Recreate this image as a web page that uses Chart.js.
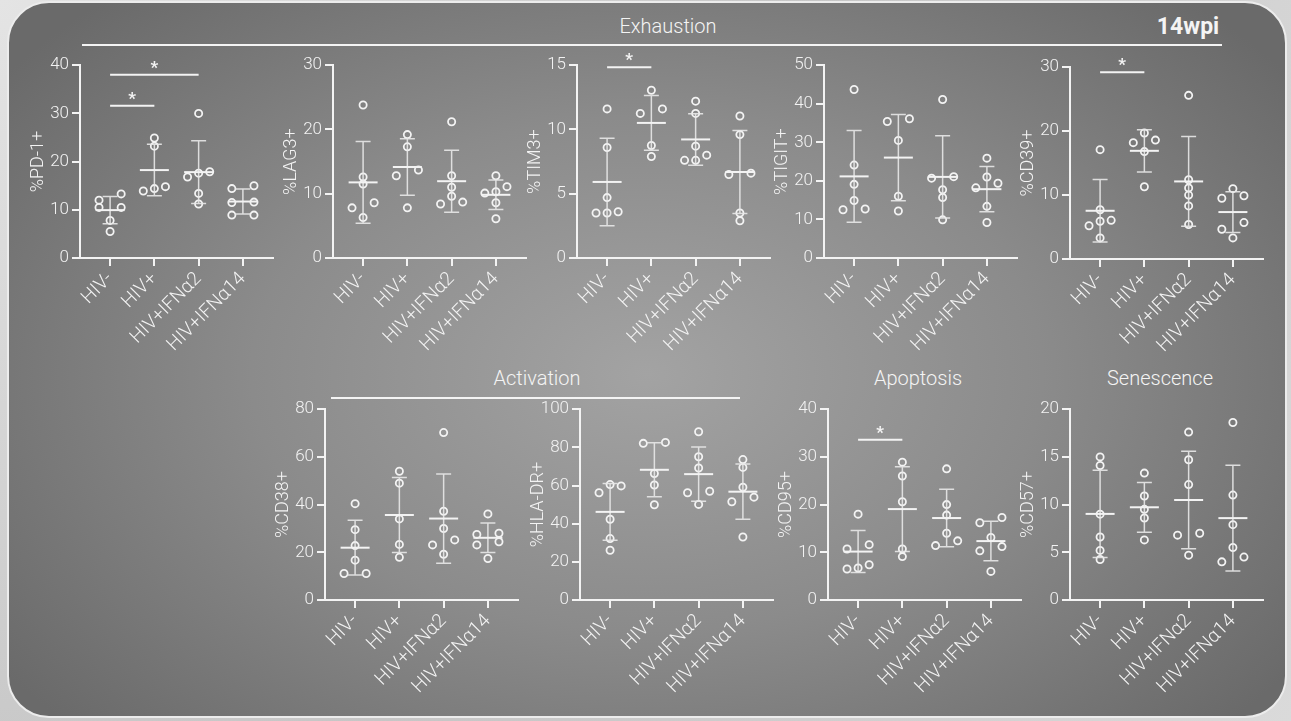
<!DOCTYPE html>
<html>
<head>
<meta charset="utf-8">
<script src="https://cdn.jsdelivr.net/npm/chart.js@4.4.1/dist/chart.umd.min.js"></script>
<style>
  html, body { margin: 0; padding: 0; }
  body {
    width: 1291px; height: 721px; overflow: hidden; position: relative;
    background: radial-gradient(circle at 0 0, #e4e4e4, #c6c6c6 55%, #dadada);
    font-family: Roboto, 'Liberation Sans', sans-serif;
  }
  #frame {
    position: absolute; left: 7px; top: 1px; width: 1280px; height: 717px;
    box-sizing: border-box; border-radius: 42px; border: 2px solid #ececec;
    background: radial-gradient(ellipse 62% 72% at 50% 52%, #a3a3a3 0%, #8b8b8b 50%, #6a6a6a 100%);
  }
  canvas { position: absolute; }
  .hd { position: absolute; color: #f4f4f4; font-size: 20px; font-weight: 300; transform: translate(-50%, -50%); white-space: nowrap; }
  .rule { position: absolute; height: 2px; background: #f4f4f4; }
</style>
</head>
<body>
<div id="frame"></div>
<div class="hd" style="left:668px; top:26px;">Exhaustion</div>
<div class="hd" style="left:1188px; top:26px; font-weight:700; font-size:23px;">14wpi</div>
<div class="rule" style="left:82px; top:44px; width:1140px;"></div>
<div class="hd" style="left:537px; top:378px;">Activation</div>
<div class="rule" style="left:331px; top:397px; width:409px;"></div>
<div class="hd" style="left:918px; top:378px;">Apoptosis</div>
<div class="hd" style="left:1160px; top:378px;">Senescence</div>

<script>
// ── 14wpi 表型面板：每組個別值 + 平均 ± SD ──────────────
const GROUPS = ['HIV-', 'HIV+', 'HIV+IFNα2', 'HIV+IFNα14'];

// 各標記的個別值：[HIV-, HIV+, HIV+IFNα2, HIV+IFNα14]
const PD1   = [[13.3, 12.0, 10.5, 10.5, 7.8, 5.5], [24.9, 23.2, 13.9, 14.8, 14.4], [30.0, 17.9, 17.6, 16.8, 13.4, 11.2], [14.4, 15.0, 11.6, 11.5, 8.9, 8.9]];
const LAG3  = [[23.8, 12.6, 11.5, 8.6, 7.8, 6.3], [19.2, 17.3, 13.7, 12.8, 7.8], [21.2, 12.8, 11.0, 9.6, 8.4, 8.7], [12.8, 11.1, 10.3, 10.1, 8.6, 6.1]];
const TIM3  = [[11.6, 8.6, 4.7, 3.5, 3.6, 3.5], [13.05, 11.25, 11.6, 8.75, 7.9], [12.2, 11.25, 8.7, 8.0, 7.6, 7.6], [11.05, 9.6, 6.5, 6.6, 2.9, 3.5]];
const TIGIT = [[43.7, 24.1, 19.1, 14.9, 12.5, 12.7], [36.1, 35.4, 30.5, 16.0, 12.2], [41.1, 21.1, 20.7, 17.7, 15.7, 9.9], [25.9, 21.0, 18.2, 19.4, 13.4, 9.2]];
const CD39  = [[17.1, 7.7, 6.05, 5.9, 5.2, 3.3], [19.7, 18.2, 18.6, 16.8, 11.3], [25.6, 12.4, 10.0, 11.1, 8.3, 5.4], [9.9, 11.0, 9.5, 5.7, 4.65, 3.3]];
const CD38  = [[40.4, 29.5, 22.8, 16.7, 11.1, 11.1], [54.0, 49.0, 34.0, 23.3, 17.9], [70.2, 37.2, 30.0, 25.2, 23.1, 19.2], [36.1, 28.0, 27.5, 24.4, 23.1, 17.4]];
const HLADR = [[60.5, 59.8, 56.2, 42.3, 32.2, 26.1], [82.6, 82.1, 66.3, 60.3, 49.9], [88.2, 75.1, 69.2, 57.0, 56.2, 50.1], [73.6, 69.5, 59.1, 53.9, 51.5, 33.0]];
const CD95  = [[18.0, 11.6, 10.7, 7.4, 6.5, 6.7], [28.9, 26.0, 20.6, 10.7, 9.1], [27.5, 20.0, 17.8, 14.0, 11.4, 12.4], [16.2, 17.3, 13.1, 11.2, 10.3, 6.0]];
const CD57  = [[15.0, 14.1, 9.0, 6.6, 5.2, 4.25], [13.3, 10.9, 9.5, 8.6, 6.3], [17.6, 14.7, 12.1, 7.0, 6.8, 4.7], [18.6, 11.0, 7.9, 5.5, 4.0, 4.5]];

const VALUES  = [PD1, LAG3, TIM3, TIGIT, CD39, CD38, HLADR, CD95, CD57];
const MARKERS = ['%PD-1+', '%LAG3+', '%TIM3+', '%TIGIT+', '%CD39+', '%CD38+', '%HLA-DR+', '%CD95+', '%CD57+'];
const Y_MAX   = [40, 30, 15, 50, 30, 80, 100, 40, 20];
const Y_STEP  = [10, 10, 5, 10, 10, 20, 20, 10, 5];

// 顯著性標記：[組 a, 組 b, 標線高度(數值)]
const SIG = [[[0, 1, 31.6], [0, 2, 38]], [], [[0, 1, 14.85]], [], [[0, 1, 29.2]], [], [], [[0, 1, 33.6]], []];

// 版面：[繪圖區左緣, 繪圖區上緣, 繪圖區高度]
const LAYOUT = [
  [80, 64, 194], [333, 64, 194], [577, 64, 194], [824, 64, 194], [1070, 66, 193],
  [325, 408, 192], [580, 408, 192], [828, 408, 192], [1070, 408, 192]
];

const FONT = "Roboto, 'Liberation Sans', sans-serif";
const INK = '#f3f3f3';
const Y_W = 52, PAD_T = 12, PAD_R = 12, X_H = 112, PLOT_W = 193;
const X_MIN = -0.68, X_MAX = 3.68;
const STEP = 0.25; // 同高點的水平間距（類別單位）

// 簡單蜂群排列：數值接近的點左右對稱散開
function swarm(vals, pxPerUnit) {
  const order = vals.map((_, i) => i).sort((a, b) => vals[a] - vals[b]);
  const off = vals.map(() => 0);
  let bin = [];
  const flush = () => {
    const n = bin.length;
    bin.forEach((k, j) => { off[k] = (j - (n - 1) / 2) * (n === 2 ? 2 : 1) * STEP; });
    bin = [];
  };
  order.forEach(k => {
    if (bin.length && (vals[k] - vals[bin[0]]) * pxPerUnit > 7) flush();
    bin.push(k);
  });
  flush();
  return off;
}

const mean = a => a.reduce((s, v) => s + v, 0) / a.length;
const sd = a => {
  const m = mean(a);
  return Math.sqrt(a.reduce((s, v) => s + (v - m) * (v - m), 0) / (a.length - 1));
};

// 平均線、SD 誤差線、顯著性標線
const statsPlugin = {
  id: 'stats',
  afterDatasetsDraw(chart, args, opts) {
    const { ctx, scales: { x, y } } = chart;
    ctx.save();
    chart.data.datasets.forEach((ds, gi) => {
      const m = mean(ds.values), s = sd(ds.values);
      const cx = x.getPixelForValue(gi);
      const yt = y.getPixelForValue(m + s);
      const yb = y.getPixelForValue(Math.max(m - s, 0));
      const ym = y.getPixelForValue(m);
      ctx.strokeStyle = 'rgba(232,232,232,0.9)';
      ctx.lineWidth = 1.5;
      ctx.beginPath();
      ctx.moveTo(cx, yt); ctx.lineTo(cx, yb);
      ctx.moveTo(cx - 7.5, yt); ctx.lineTo(cx + 7.5, yt);
      ctx.moveTo(cx - 7.5, yb); ctx.lineTo(cx + 7.5, yb);
      ctx.stroke();
      ctx.strokeStyle = INK;
      ctx.lineWidth = 2;
      ctx.beginPath();
      ctx.moveTo(cx - 14.5, ym); ctx.lineTo(cx + 14.5, ym);
      ctx.stroke();
    });
    (opts.sig || []).forEach(([a, b, v]) => {
      const yy = y.getPixelForValue(v);
      const xa = x.getPixelForValue(a), xb = x.getPixelForValue(b);
      ctx.strokeStyle = INK;
      ctx.lineWidth = 2;
      ctx.beginPath();
      ctx.moveTo(xa, yy); ctx.lineTo(xb, yy);
      ctx.stroke();
      ctx.fillStyle = INK;
      ctx.font = `bold 17px ${FONT}`;
      ctx.textAlign = 'center';
      ctx.textBaseline = 'alphabetic';
      ctx.fillText('*', (xa + xb) / 2, yy - 2);
    });
    ctx.restore();
  }
};

const axisGrid = { display: true, drawOnChartArea: false, drawTicks: true, tickLength: 8, color: INK, lineWidth: 2 };
const axisBorder = { display: true, color: INK, width: 2 };
const yTickFont = { family: FONT, size: 17, weight: '300' };
const xTickFont = { family: FONT, size: 19, weight: '300' };
const titleFont = { family: FONT, size: 18, weight: '300' };

VALUES.forEach((vals, i) => {
  const [left, top, h] = LAYOUT[i];
  const canvas = document.createElement('canvas');
  canvas.width = Y_W + PLOT_W + PAD_R;
  canvas.height = PAD_T + h + X_H;
  canvas.style.left = (left - Y_W) + 'px';
  canvas.style.top = (top - PAD_T) + 'px';
  document.body.appendChild(canvas);

  const pxPerUnit = h / Y_MAX[i];

  new Chart(canvas, {
    type: 'scatter',
    data: {
      datasets: vals.map((g, gi) => {
        const off = swarm(g, pxPerUnit);
        return {
          values: g,
          data: g.map((v, k) => ({ x: gi + off[k], y: v })),
          pointRadius: 3.6,
          pointHoverRadius: 3.6,
          pointBorderWidth: 1.8,
          pointBorderColor: INK,
          pointBackgroundColor: 'rgba(0,0,0,0)',
          showLine: false,
          clip: false
        };
      })
    },
    options: {
      responsive: false,
      animation: false,
      events: [],
      layout: { padding: { top: PAD_T, right: PAD_R, left: 0, bottom: 0 } },
      plugins: {
        legend: { display: false },
        tooltip: { enabled: false },
        stats: { sig: SIG[i] }
      },
      scales: {
        x: {
          type: 'linear',
          min: X_MIN,
          max: X_MAX,
          afterBuildTicks: s => { s.ticks = GROUPS.map((_, k) => ({ value: k })); },
          afterFit: s => { s.height = X_H; },
          ticks: {
            autoSkip: false, minRotation: 45, maxRotation: 45, padding: 2,
            color: INK, font: xTickFont,
            callback: v => GROUPS[v]
          },
          grid: axisGrid,
          border: axisBorder
        },
        y: {
          min: 0,
          max: Y_MAX[i],
          afterFit: s => { s.width = Y_W; },
          ticks: { stepSize: Y_STEP[i], padding: 3, color: INK, font: yTickFont },
          title: { display: true, text: MARKERS[i], color: INK, font: titleFont, padding: { top: 0, bottom: 4 } },
          grid: axisGrid,
          border: axisBorder
        }
      }
    },
    plugins: [statsPlugin]
  });
});
</script>
</body>
</html>
